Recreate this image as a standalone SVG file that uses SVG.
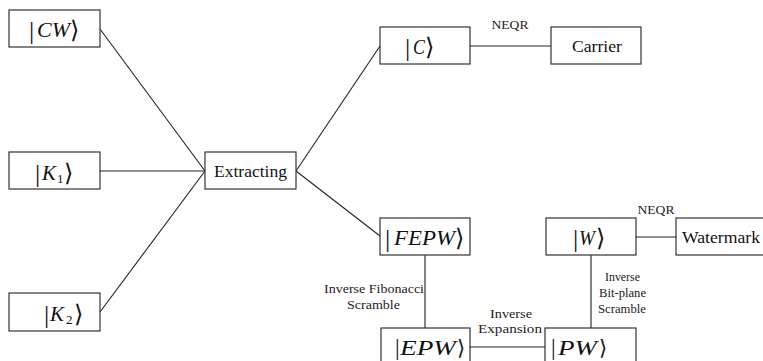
<svg xmlns="http://www.w3.org/2000/svg" width="763" height="361" viewBox="0 0 763 361">
  <style>
    .box { fill: #ffffff; stroke: #333333; stroke-width: 1.2; }
    .edge { stroke: #222222; stroke-width: 1.1; fill: none; }
    .name { font-family: "Liberation Serif", "Times New Roman", serif; font-size: 17px; fill: #111111; }
    .lbl { font-family: "Liberation Serif", "Times New Roman", serif; font-size: 13px; fill: #222222; }
    .lbl-s { font-family: "Liberation Serif", "Times New Roman", serif; font-size: 12px; fill: #222222; }
    .ket { font-family: "Liberation Serif", "Times New Roman", serif; font-size: 20px; fill: #111111; }
    .it { font-style: italic; }
    .bar { font-size: 26px; font-style: normal; }
    .bar-sm { font-size: 23px; font-style: normal; }
    .ang { font-family: "DejaVu Serif", "DejaVu Sans", serif; font-size: 24px; font-style: normal; }
    .ang-sm { font-family: "DejaVu Serif", "DejaVu Sans", serif; font-size: 21px; font-style: normal; }
    .sub { font-size: 13px; font-style: normal; }
  </style>

  <!-- connectors -->
  <g id="connectors">
    <line class="edge" x1="100" y1="29" x2="205" y2="171"/>
    <line class="edge" x1="100" y1="171" x2="205" y2="171"/>
    <line class="edge" x1="100" y1="312" x2="205" y2="171"/>
    <line class="edge" x1="296" y1="171" x2="380" y2="46"/>
    <line class="edge" x1="296" y1="171" x2="380" y2="236"/>
    <line class="edge" x1="470" y1="46" x2="551" y2="46"/>
    <line class="edge" x1="425" y1="255" x2="425" y2="328"/>
    <line class="edge" x1="470" y1="347" x2="545" y2="347"/>
    <line class="edge" x1="591" y1="255" x2="591" y2="328"/>
    <line class="edge" x1="636" y1="237" x2="676" y2="237"/>

    <text class="lbl" x="510" y="29" text-anchor="middle" textLength="37" lengthAdjust="spacingAndGlyphs">NEQR</text>
    <text class="lbl" x="656" y="214" text-anchor="middle" textLength="37" lengthAdjust="spacingAndGlyphs">NEQR</text>
    <text class="lbl" x="324" y="293" textLength="100" lengthAdjust="spacingAndGlyphs">Inverse Fibonacci</text>
    <text class="lbl" x="347" y="309" textLength="53" lengthAdjust="spacingAndGlyphs">Scramble</text>
    <text class="lbl" x="490" y="318" textLength="42" lengthAdjust="spacingAndGlyphs">Inverse</text>
    <text class="lbl" x="478" y="333" textLength="64" lengthAdjust="spacingAndGlyphs">Expansion</text>
    <text class="lbl-s" x="605" y="281" textLength="35" lengthAdjust="spacingAndGlyphs">Inverse</text>
    <text class="lbl-s" x="599" y="297" textLength="47" lengthAdjust="spacingAndGlyphs">Bit-plane</text>
    <text class="lbl-s" x="598" y="313" textLength="48" lengthAdjust="spacingAndGlyphs">Scramble</text>
  </g>

  <!-- input states -->
  <g id="n-cw">
    <rect class="box" x="9" y="10" width="91" height="37"/>
    <text class="ket"><tspan class="bar" x="29" y="39">|</tspan><tspan class="it" x="37" y="37" textLength="33" lengthAdjust="spacingAndGlyphs">CW</tspan><tspan class="ang" x="70" y="38">⟩</tspan></text>
  </g>
  <g id="n-k1">
    <rect class="box" x="9" y="152" width="91" height="37"/>
    <text class="ket"><tspan class="bar" x="35" y="182">|</tspan><tspan class="it" x="42" y="180" textLength="14" lengthAdjust="spacingAndGlyphs">K</tspan><tspan class="sub" x="57" y="183">1</tspan><tspan class="ang" x="64" y="181">⟩</tspan></text>
  </g>
  <g id="n-k2">
    <rect class="box" x="9" y="293" width="91" height="38"/>
    <text class="ket"><tspan class="bar" x="44" y="323">|</tspan><tspan class="it" x="50" y="321" textLength="14" lengthAdjust="spacingAndGlyphs">K</tspan><tspan class="sub" x="66" y="324">2</tspan><tspan class="ang" x="74" y="322">⟩</tspan></text>
  </g>

  <g id="n-extracting">
    <rect class="box" x="205" y="152" width="91" height="37"/>
    <text class="name" x="214" y="177" textLength="73" lengthAdjust="spacingAndGlyphs">Extracting</text>
  </g>

  <!-- carrier branch -->
  <g id="n-c">
    <rect class="box" x="380" y="27" width="90" height="37"/>
    <text class="ket"><tspan class="bar" x="405" y="56">|</tspan><tspan class="it" x="413" y="54" textLength="12" lengthAdjust="spacingAndGlyphs">C</tspan><tspan class="ang" x="425" y="55">⟩</tspan></text>
  </g>
  <g id="n-carrier">
    <rect class="box" x="551" y="27" width="90" height="37"/>
    <text class="name" x="572" y="52" textLength="50" lengthAdjust="spacingAndGlyphs">Carrier</text>
  </g>

  <!-- watermark branch -->
  <g id="n-fepw">
    <rect class="box" x="380" y="218" width="90" height="37"/>
    <text class="ket"><tspan class="bar" x="385" y="247">|</tspan><tspan class="it" x="394" y="245" textLength="61" lengthAdjust="spacingAndGlyphs">FEPW</tspan><tspan class="ang" x="455" y="246">⟩</tspan></text>
  </g>
  <!-- the two lowest boxes run off the bottom edge -->
  <g id="n-epw">
    <rect class="box" x="381" y="328" width="89" height="38"/>
    <text class="ket"><tspan class="bar-sm" x="395" y="355">|</tspan><tspan class="it" x="400" y="355" textLength="56" lengthAdjust="spacingAndGlyphs">EPW</tspan><tspan class="ang-sm" x="457" y="355">⟩</tspan></text>
  </g>
  <g id="n-pw">
    <rect class="box" x="545" y="328" width="91" height="38"/>
    <text class="ket"><tspan class="bar-sm" x="551" y="355">|</tspan><tspan class="it" x="558" y="355" textLength="39" lengthAdjust="spacingAndGlyphs">PW</tspan><tspan class="ang-sm" x="599" y="355">⟩</tspan></text>
  </g>
  <g id="n-w">
    <rect class="box" x="546" y="218" width="90" height="37"/>
    <text class="ket"><tspan class="bar" x="573" y="247">|</tspan><tspan class="it" x="579" y="245" textLength="16" lengthAdjust="spacingAndGlyphs">W</tspan><tspan class="ang" x="596" y="246">⟩</tspan></text>
  </g>
  <g id="n-watermark">
    <rect class="box" x="676" y="218" width="92" height="37"/>
    <text class="name" x="682" y="243" textLength="78" lengthAdjust="spacingAndGlyphs">Watermark</text>
  </g>
</svg>
